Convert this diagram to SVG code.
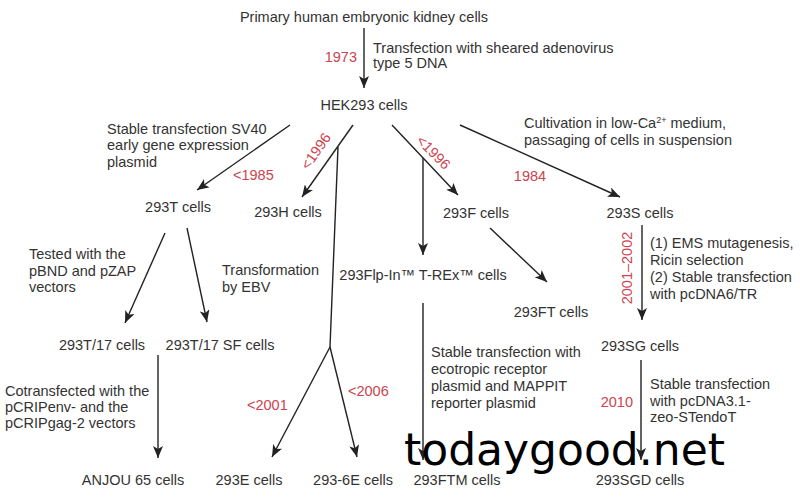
<svg xmlns="http://www.w3.org/2000/svg" width="800" height="500" viewBox="0 0 800 500">
<defs>
<style>
text{font-family:"Liberation Sans",Arial,sans-serif;font-size:14.5px;fill:#333}
.n{text-anchor:middle}
.r{fill:#cc4450}
.c line,.c path{stroke:#222;stroke-width:1.4;fill:none}
.wm{font-family:"DejaVu Sans",sans-serif;font-size:44px;fill:#000}
</style>
<marker id="ah" viewBox="0 0 12 10" refX="12" refY="5" markerWidth="12" markerHeight="10" orient="auto" markerUnits="userSpaceOnUse"><path d="M0,0 L12,5 L0,10 L3,5 z" fill="#222"/></marker>
</defs>
<rect width="800" height="500" fill="#fff"/>
<g class="c" id="connectors">
<line x1="364" y1="28" x2="364" y2="88" marker-end="url(#ah)"/>
<line x1="290" y1="125" x2="197" y2="190" marker-end="url(#ah)"/>
<line x1="353" y1="125" x2="302" y2="197" marker-end="url(#ah)"/>
<path d="M338,147 L330,347"/>
<line x1="330" y1="347" x2="272" y2="457" marker-end="url(#ah)"/>
<line x1="330" y1="347" x2="357" y2="457" marker-end="url(#ah)"/>
<line x1="392" y1="125" x2="458" y2="195" marker-end="url(#ah)"/>
<line x1="423" y1="158" x2="423" y2="255" marker-end="url(#ah)"/>
<line x1="460" y1="125" x2="620" y2="197" marker-end="url(#ah)"/>
<line x1="490" y1="228" x2="547" y2="282" marker-end="url(#ah)"/>
<line x1="642" y1="225" x2="642" y2="320" marker-end="url(#ah)"/>
<line x1="165" y1="233" x2="125" y2="323" marker-end="url(#ah)"/>
<line x1="187" y1="228" x2="207" y2="322" marker-end="url(#ah)"/>
<line x1="158" y1="355" x2="158" y2="458" marker-end="url(#ah)"/>
<line x1="423" y1="303" x2="423" y2="460" marker-end="url(#ah)"/>
<line x1="641" y1="360" x2="641" y2="460" marker-end="url(#ah)"/>
</g>
<g id="labels">
<text class="r" x="357" y="62" text-anchor="end">1973</text>
<text x="373" y="53">Transfection with sheared adenovirus</text>
<text x="373" y="68">type 5 DNA</text>
<text x="107" y="134">Stable transfection SV40</text>
<text x="107" y="150">early gene expression</text>
<text x="107" y="167">plasmid</text>
<text class="r" x="233" y="180">&lt;1985</text>
<text class="r n" transform="translate(320,154) rotate(-55)">&lt;1996</text>
<text class="r n" transform="translate(430,156) rotate(45)">&lt;1996</text>
<text class="r n" x="530" y="181">1984</text>
<text x="524" y="128">Cultivation in low-Ca<tspan font-size="9" dy="-5">2+</tspan><tspan dy="5"> medium,</tspan></text>
<text x="524" y="145">passaging of cells in suspension</text>
<text x="29" y="259">Tested with the</text>
<text x="29" y="276">pBND and pZAP</text>
<text x="29" y="292">vectors</text>
<text x="222" y="275">Transformation</text>
<text x="222" y="292">by EBV</text>
<text class="r n" transform="translate(632,268) rotate(-90)">2001–2002</text>
<text x="650" y="248">(1) EMS mutagenesis,</text>
<text x="650" y="265">Ricin selection</text>
<text x="650" y="282">(2) Stable transfection</text>
<text x="650" y="299">with pcDNA6/TR</text>
<text x="431" y="357">Stable transfection with</text>
<text x="431" y="374">ecotropic receptor</text>
<text x="431" y="391">plasmid and MAPPIT</text>
<text x="431" y="408">reporter plasmid</text>
<text class="r" x="633" y="407" text-anchor="end">2010</text>
<text x="650" y="389">Stable transfection</text>
<text x="650" y="406">with pcDNA3.1-</text>
<text x="650" y="422">zeo-STendoT</text>
<text x="5" y="396">Cotransfected with the</text>
<text x="5" y="412">pCRIPenv- and the</text>
<text x="5" y="428">pCRIPgag-2 vectors</text>
<text class="r" x="247" y="410">&lt;2001</text>
<text class="r" x="348" y="396">&lt;2006</text>
</g>
<g id="n-primary"><text class="n" x="364" y="22">Primary human embryonic kidney cells</text></g>
<g id="n-hek293"><text class="n" x="364" y="110">HEK293 cells</text></g>
<g id="n-293t"><text class="n" x="178" y="212">293T cells</text></g>
<g id="n-293h"><text class="n" x="288" y="217">293H cells</text></g>
<g id="n-293f"><text class="n" x="476" y="218">293F cells</text></g>
<g id="n-293s"><text class="n" x="640" y="218">293S cells</text></g>
<g id="n-293flp"><text class="n" x="423" y="280">293Flp-In™ T-REx™ cells</text></g>
<g id="n-293ft"><text class="n" x="551" y="317">293FT cells</text></g>
<g id="n-293t17"><text class="n" x="102" y="350">293T/17 cells</text></g>
<g id="n-293t17sf"><text class="n" x="220" y="350">293T/17 SF cells</text></g>
<g id="n-293sg"><text class="n" x="640" y="351">293SG cells</text></g>
<g id="n-anjou"><text class="n" x="133" y="485">ANJOU 65 cells</text></g>
<g id="n-293e"><text class="n" x="249" y="485">293E cells</text></g>
<g id="n-2936e"><text class="n" x="353" y="485">293-6E cells</text></g>
<g id="n-293ftm"><text class="n" x="457" y="485">293FTM cells</text></g>
<g id="n-293sgd"><text class="n" x="640" y="485">293SGD cells</text></g>
<text class="wm" x="404" y="465">todaygood.net</text>
</svg>
